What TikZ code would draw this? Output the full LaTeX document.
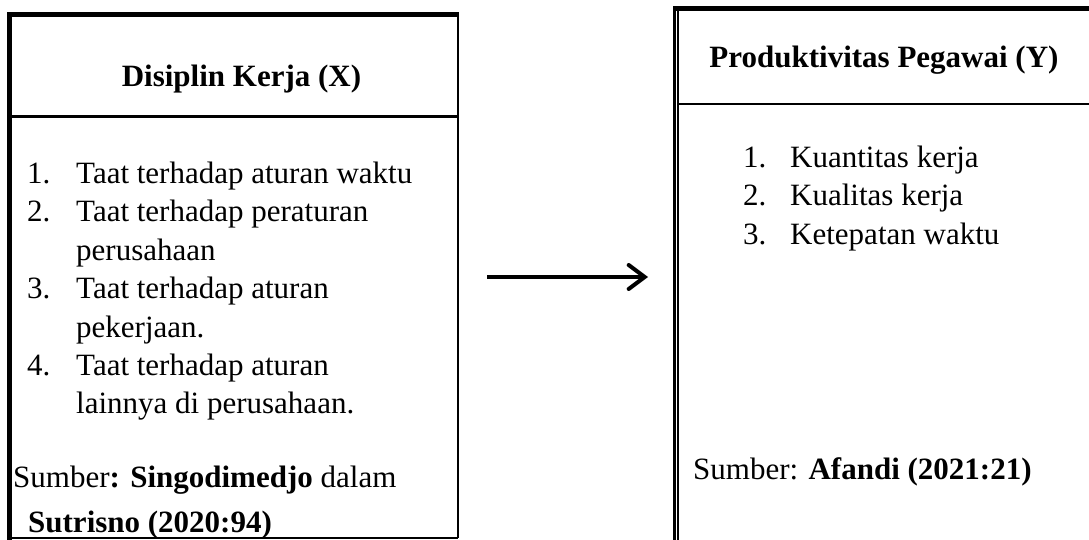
\documentclass[tikz,border=0pt]{standalone}
\usepackage{fontspec}
\setmainfont{Liberation Serif}
\usetikzlibrary{arrows.meta}

\tikzset{
  txt/.style={inner sep=0pt, anchor=base west, font=\fontsize{31}{38}\selectfont},
  judul/.style={inner sep=0pt, anchor=base, font=\fontsize{31}{38}\selectfont\bfseries},
  tebal/.style={black, line width=5pt},
  tipis/.style={black, line width=2.5pt}
}

\begin{document}
\begin{tikzpicture}[x=1pt, y=-1pt]
            \useasboundingbox (0,0) rectangle (1089,540);

            % kotak kiri
            \draw[tebal] (9.5,540) -- (9.5,14.5) -- (459,14.5);
            \draw[tipis] (458,14) -- (458,538);
            \draw[black, line width=1.5pt] (9,538) -- (458,538);
            \draw[tipis] (9,116.5) -- (458,116.5);

            % kotak kanan
            \draw[black, line width=4.5pt] (673,8.5) -- (1089,8.5);
            \draw[black, line width=3pt] (674.5,7) -- (674.5,540);
            \draw[black, line width=1.7pt] (677.8,10.5) -- (677.8,540);
            \draw[tipis] (678,104) -- (1089,104);

            \node[judul] (judulx) at (241.5,87) {Disiplin Kerja (X)};
            \node[txt] (nox1) at (27,184) {1.};
            \node[txt] (x1) at (76,184) {Taat terhadap aturan waktu};
            \node[txt] (nox2) at (27,222) {2.};
            \node[txt] (x2) at (76,222) {Taat terhadap peraturan};
            \node[txt] (x2b) at (76,260) {perusahaan};
            \node[txt] (nox3) at (27,298) {3.};
            \node[txt] (x3) at (76,298) {Taat terhadap aturan};
            \node[txt] (x3b) at (76,337) {pekerjaan.};
            \node[txt] (nox4) at (27,375) {4.};
            \node[txt] (x4) at (76,375) {Taat terhadap aturan};
            \node[txt] (x4b) at (76,413) {lainnya di perusahaan.};
            \node[txt] (sumberx) at (13,487) {Sumber\textbf{: Singodimedjo} dalam};
            \node[txt] (sumberxb) at (28,532) {\textbf{Sutrisno (2020:94)}};

            \node[judul] (juduly) at (884,68) {Produktivitas Pegawai (Y)};
            \node[txt] (noy1) at (743,168) {1.};
            \node[txt] (y1) at (790,168) {Kuantitas kerja};
            \node[txt] (noy2) at (743,206) {2.};
            \node[txt] (y2) at (790,206) {Kualitas kerja};
            \node[txt] (noy3) at (743,244) {3.};
            \node[txt] (y3) at (790,244) {Ketepatan waktu};
            \node[txt] (sumbery) at (693,479) {Sumber: \textbf{Afandi (2021:21)}};

            % panah
            \coordinate (panahx) at (487,277);
            \coordinate (panahy) at (648,277);
            \draw[black, line width=4pt, -{Straight Barb[length=16pt, width=24pt, line cap=round]}] (panahx) -- (panahy);
        \end{tikzpicture}
\end{document}
